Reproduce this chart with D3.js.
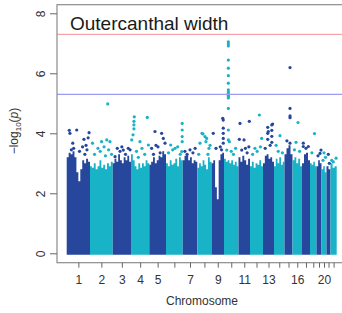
<!DOCTYPE html>
<meta charset="utf-8">
<style>
body { margin: 0; background: #fff; }
text { font-family: "Liberation Sans", Arial, sans-serif; }
.axis path { display: none; }
.axis line { stroke: #666; }
.axis text { font-size: 12px; fill: #333; }
</style>
<body>
<script src="https://cdn.jsdelivr.net/npm/d3@7"></script>
<script>

var chromosomes = ["1","2","3","4","5","6","7","8","9","10","11","12","13","14","15","16","17","18","19","20","21","22"];
var snpCounts = [233,227,183,183,167,167,146,142,125,145,115,130,110,105,80,95,80,65,50,50,40,62];
var shownLabels = ["1","2","3","4","5","7","9","11","13","16","20"];

// top of the dense mass of points, evenly spaced along each chromosome
var envelope = [
  [3.2,3.35,3.3,3.4,3.2,2.7,2.4,2.8,3.1,3.0,3.15,3.05],
  [2.9,2.85,3.0,2.8,2.9,3.1,2.85,2.95,2.8,3.0,2.9,3.05],
  [3.0,3.15,3.05,3.3,3.1,3.0,3.2,3.1,3.25,3.05],
  [3.3,3.1,2.9,2.8,3.0,2.85,3.0,2.9,3.1,3.0],
  [2.95,3.05,3.2,3.0,3.1,3.25,3.2,3.4,3.3],
  [3.0,2.9,3.1,2.95,3.0,3.15,2.9,3.2,3.1],
  [3.1,3.25,3.3,3.1,3.2,3.0,3.1,3.05],
  [2.85,3.0,2.9,3.1,2.95,2.8,3.2,3.05],
  [3.0,3.1,2.2,1.8,3.1,3.3,3.35],
  [3.15,3.05,3.1,3.0,3.1,2.95,3.05,2.9],
  [3.2,3.05,3.25,3.1,2.95,3.15],
  [2.9,3.05,2.85,3.0,2.95,3.1,2.9],
  [3.0,3.25,3.3,3.15,3.2,3.05],
  [2.9,3.15,3.0,3.2,2.95,3.05],
  [3.3,3.5,3.6,3.3],
  [3.1,3.2,3.0,3.15,2.9],
  [3.0,3.3,3.35,3.1],
  [3.0,2.95,3.05,2.9],
  [2.9,3.1,3.0],
  [2.8,2.9,2.7],
  [2.9,2.8],
  [3.0,2.85,2.9]
];

// SNPs standing above the mass: [chromosome index, position within chromosome (0-1), -log10(p)]
var hits = [
  [0,0.11,4.10],[0,0.14,4.00],[0,0.43,4.11],[0,0.26,3.67],[0,0.74,3.80],[0,0.83,3.60],[0,0.87,3.45],[0,0.96,4.02],
  [0,0.20,3.45],[0,0.30,3.50],[0,0.55,3.40],[0,0.68,3.55],[0,0.78,3.30],[0,0.92,3.85],
  [1,0.78,4.98],[1,0.51,3.72],[1,0.74,3.78],[1,0.88,3.72],[1,0.11,3.67],[1,0.35,3.50],[1,0.62,3.55],
  [1,0.20,3.30],[1,0.45,3.40],[1,0.68,3.25],[1,0.82,3.45],[1,0.95,3.30],
  [2,0.58,3.44],[2,0.85,3.50],[2,0.13,3.22],[2,0.40,3.40],[2,0.25,3.50],[2,0.50,3.55],[2,0.70,3.30],[2,0.95,3.45],
  [3,0.89,4.53],[3,0.18,4.55],[3,0.16,4.40],[3,0.16,4.28],[3,0.16,4.15],[3,0.04,3.78],[3,0.49,3.72],[3,0.95,3.61],[3,0.11,3.95],
  [3,0.30,3.40],[3,0.60,3.50],[3,0.75,3.30],[3,0.40,3.20],
  [4,0.34,4.06],[4,0.74,4.00],[4,0.94,3.67],[4,0.84,3.83],[4,0.14,3.50],[4,0.52,3.55],[4,0.40,3.60],[4,0.65,3.35],[4,0.25,3.30],
  [5,0.97,4.33],[5,0.97,4.11],[5,0.97,3.89],[5,0.97,3.72],[5,0.28,3.61],[5,0.94,3.39],[5,0.54,3.50],
  [5,0.15,3.35],[5,0.40,3.45],[5,0.70,3.55],[5,0.85,3.30],
  [6,0.50,3.45],[6,0.70,3.35],[6,0.30,3.30],[6,0.15,3.40],[6,0.85,3.50],
  [7,0.19,3.67],[7,0.66,3.83],[7,0.61,3.72],[7,0.54,3.89],[7,0.82,3.50],[7,0.33,4.00],[7,0.40,3.98],
  [7,0.10,3.30],[7,0.75,3.30],[7,0.90,3.60],
  [8,0.90,4.50],[8,0.94,4.44],[8,0.94,4.17],[8,0.94,4.00],[8,0.94,3.83],[8,0.94,3.67],[8,0.14,4.00],[8,0.36,3.50],
  [8,0.70,3.55],[8,0.80,3.45],
  [9,0.30,7.05],[9,0.30,6.98],[9,0.30,6.91],[9,0.30,6.44],[9,0.30,6.17],[9,0.30,5.92],[9,0.30,5.67],
  [9,0.30,5.45],[9,0.30,5.38],[9,0.30,5.32],[9,0.30,5.27],[9,0.30,5.22],[9,0.30,5.18],[9,0.30,4.83],
  [9,0.30,4.11],[9,0.30,3.78],[9,0.19,3.44],[9,0.37,3.72],[9,0.50,3.40],[9,0.65,3.30],[9,0.80,3.50],
  [10,0.13,4.33],[10,0.94,4.40],[10,0.07,3.80],[10,0.28,3.44],[10,0.48,3.78],[10,0.90,3.55],[10,0.60,3.50],[10,0.75,3.35],
  [11,0.72,4.61],[11,0.90,3.83],[11,0.38,3.50],[11,0.20,3.30],[11,0.55,3.40],[11,0.80,3.55],
  [12,0.88,4.31],[12,0.80,4.28],[12,0.80,4.10],[12,0.80,3.90],[12,0.80,3.70],[12,0.43,4.20],[12,0.43,4.00],[12,0.43,3.80],[12,0.48,4.06],
  [12,0.20,3.50],[12,0.65,3.60],
  [13,0.57,3.92],[13,0.20,3.60],[13,0.40,3.40],[13,0.80,3.35],
  [14,0.69,6.19],[14,0.69,4.83],[14,0.69,4.58],[14,0.69,4.52],[14,0.69,3.67],[14,0.30,3.75],
  [15,0.58,4.36],[15,0.37,3.70],[15,0.20,3.45],[15,0.75,3.40],
  [16,0.16,3.67],[16,0.16,3.56],[16,0.79,3.56],[16,0.50,3.50],
  [17,0.69,3.99],[17,0.30,3.35],
  [18,0.70,3.33],[18,0.90,3.44],[18,0.30,3.25],
  [19,0.50,3.35],[19,0.30,3.10],[19,0.80,3.20],
  [20,0.45,3.30],[20,0.70,3.00],
  [21,0.90,3.17],[21,0.45,3.05],[21,0.20,3.10]
];

var genomeWide = 7.3, suggestive = 5.3;
var yTicks = [0,2,4,6,8];

var colors = ["#27479d", "#19b3c7"];

var width = 342, height = 313;
var box = {left: 57, top: 4.7, right: 347, bottom: 262.7};

var starts = [], acc = 0;
snpCounts.forEach(function(n) { starts.push(acc); acc += n; });
var total = acc;

var x = d3.scaleLinear().domain([0, total]).range([66.7, 336.7]);
var y = d3.scaleLinear().domain([0, 8]).range([253.3, 13.3]);

var svg = d3.select("body").append("svg")
    .attr("width", width)
    .attr("height", height);

svg.append("defs").append("clipPath").attr("id", "clip")
  .append("rect")
    .attr("x", box.left).attr("y", box.top)
    .attr("width", box.right - box.left).attr("height", box.bottom - box.top);

var plot = svg.append("g").attr("clip-path", "url(#clip)");

// dense mass of points for each chromosome
var area = d3.area()
    .curve(d3.curveStepAfter)
    .x(function(d) { return x(d[0]); })
    .y0(y(0) + 1.5)
    .y1(function(d) { return y(d[1]); });

plot.selectAll("path.mass")
    .data(envelope)
  .enter().append("path")
    .attr("class", "mass")
    .attr("fill", function(d, i) { return colors[i % 2]; })
    .attr("d", function(env, i) {
      var step = snpCounts[i] / env.length;
      var pts = env.map(function(v, k) { return [starts[i] + k * step, v]; });
      pts.push([starts[i] + snpCounts[i], env[env.length - 1]]);
      return area(pts);
    });

plot.selectAll("circle.hit")
    .data(hits)
  .enter().append("circle")
    .attr("class", "hit")
    .attr("cx", function(d) { return x(starts[d[0]] + d[1] * snpCounts[d[0]]); })
    .attr("cy", function(d) { return y(d[2]); })
    .attr("r", 1.6)
    .attr("fill", function(d) { return colors[d[0] % 2]; });

// threshold lines
plot.append("line")
    .attr("x1", box.left).attr("x2", box.right)
    .attr("y1", y(genomeWide)).attr("y2", y(genomeWide))
    .attr("stroke", "#f5a3ab").attr("stroke-width", 1.3);
plot.append("line")
    .attr("x1", box.left).attr("x2", box.right)
    .attr("y1", y(suggestive)).attr("y2", y(suggestive))
    .attr("stroke", "#9c9cf0").attr("stroke-width", 1.3);

// box
svg.append("rect")
    .attr("x", box.left).attr("y", box.top)
    .attr("width", box.right - box.left).attr("height", box.bottom - box.top)
    .attr("fill", "none").attr("stroke", "#8c8c8c").attr("stroke-width", 1.2);

// x axis
var mids = snpCounts.map(function(n, i) { return starts[i] + n / 2; });
var xAxis = d3.axisBottom(x)
    .tickValues(mids)
    .tickSize(5)
    .tickPadding(8)
    .tickFormat(function(d, i) { return shownLabels.indexOf(chromosomes[i]) >= 0 ? chromosomes[i] : ""; });

svg.append("g")
    .attr("class", "axis")
    .attr("transform", "translate(0," + box.bottom + ")")
    .call(xAxis);

// y axis
var yAxis = d3.axisLeft(y).tickValues(yTicks).tickSize(7).tickFormat(d3.format("d"));
var gy = svg.append("g")
    .attr("class", "axis")
    .attr("transform", "translate(" + box.left + ",0)")
    .call(yAxis);
gy.selectAll(".tick text")
    .attr("x", null).attr("dy", null)
    .attr("text-anchor", "middle")
    .attr("transform", "translate(-12,0) rotate(-90)");

// titles
svg.append("text")
    .attr("x", 70).attr("y", 30)
    .attr("font-size", 19)
    .attr("fill", "#1a1a1a")
    .text("Outercanthal width");

svg.append("text")
    .attr("x", 202).attr("y", 305)
    .attr("text-anchor", "middle")
    .attr("font-size", 12)
    .attr("fill", "#333")
    .text("Chromosome");

var ylab = svg.append("text")
    .attr("transform", "translate(18,131) rotate(-90)")
    .attr("text-anchor", "middle")
    .attr("font-size", 12)
    .attr("fill", "#333");
ylab.append("tspan").text("\u2212log");
ylab.append("tspan").attr("font-size", 8).attr("dy", 3).text("10");
ylab.append("tspan").attr("dy", -3).text("(");
ylab.append("tspan").attr("font-style", "italic").text("p");
ylab.append("tspan").text(")");

</script>
</body>
